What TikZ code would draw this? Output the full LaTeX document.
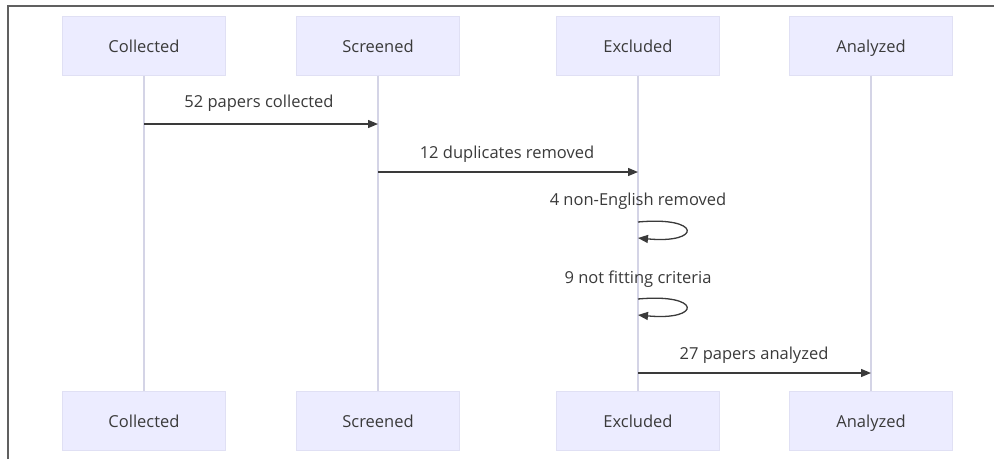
\documentclass[tikz,border=0pt]{standalone}
\usepackage{fontspec}
\setmainfont{Open Sans}
\usetikzlibrary{arrows.meta}
\definecolor{boxfill}{HTML}{ECECFF}
\definecolor{boxline}{HTML}{E0E0F4}
\definecolor{lifeline}{HTML}{D4D4E6}
\definecolor{ink}{HTML}{3A3A3A}
\definecolor{frame}{HTML}{606060}
\tikzset{
  actor/.style={draw=boxline, fill=boxfill, minimum width=163pt, minimum height=59pt, inner sep=0pt, text height=14pt, text depth=1pt, font=\fontsize{16.5}{19}\selectfont, text=ink},
  life/.style={draw=lifeline, line width=1.5pt},
  msg/.style={draw=ink, line width=1.3pt, -{Triangle[length=10pt,width=8pt]}},
  msglabel/.style={font=\fontsize{16.5}{19}\selectfont, text=ink, inner sep=0pt, text height=14pt, text depth=1pt},
}
\begin{document}
\begin{tikzpicture}[x=1pt,y=-1pt]
\useasboundingbox (0,0) rectangle (994,459);
\fill[white] (0,0) rectangle (994,459);
\draw[frame, line width=2pt] (8,459) -- (8,6) -- (994,6);
% top actors
\node[actor] (ct) at (144,46) {Collected};
\node[actor] (st) at (378,46) {Screened};
\node[actor] (et) at (638,46) {Excluded};
\node[actor] (at) at (871,46) {Analyzed};
% bottom actors
\node[actor] (cb) at (144,421) {Collected};
\node[actor] (sb) at (378,421) {Screened};
\node[actor] (eb) at (638,421) {Excluded};
\node[actor] (ab) at (871,421) {Analyzed};
% lifelines
\draw[life] (ct.south) -- (cb.north);
\draw[life] (st.south) -- (sb.north);
\draw[life] (et.south) -- (eb.north);
\draw[life] (at.south) -- (ab.north);
% message rows
\coordinate (y1) at (0,124);
\coordinate (y2) at (0,172);
\coordinate (y3a) at (0,222);
\coordinate (y3b) at (0,238);
\coordinate (y4a) at (0,299);
\coordinate (y4b) at (0,315);
\coordinate (y5) at (0,373);
% messages
\draw[msg] (ct |- y1) -- (st |- y1);
\node[msglabel] (l1) at (259,101) {52 papers collected};
\draw[msg] (st |- y2) -- (et |- y2);
\node[msglabel] (l2) at (507,152) {12 duplicates removed};
\draw[msg] (et |- y3a) .. controls (702,216) and (702,244) .. (et |- y3b);
\node[msglabel] (l3) at (638,199) {4 non-English removed};
\draw[msg] (et |- y4a) .. controls (702,293) and (702,321) .. (et |- y4b);
\node[msglabel] (l4) at (638,277) {9 not fitting criteria};
\draw[msg] (et |- y5) -- (at |- y5);
\node[msglabel] (l5) at (754,353) {27 papers analyzed};
\end{tikzpicture}
\end{document}
